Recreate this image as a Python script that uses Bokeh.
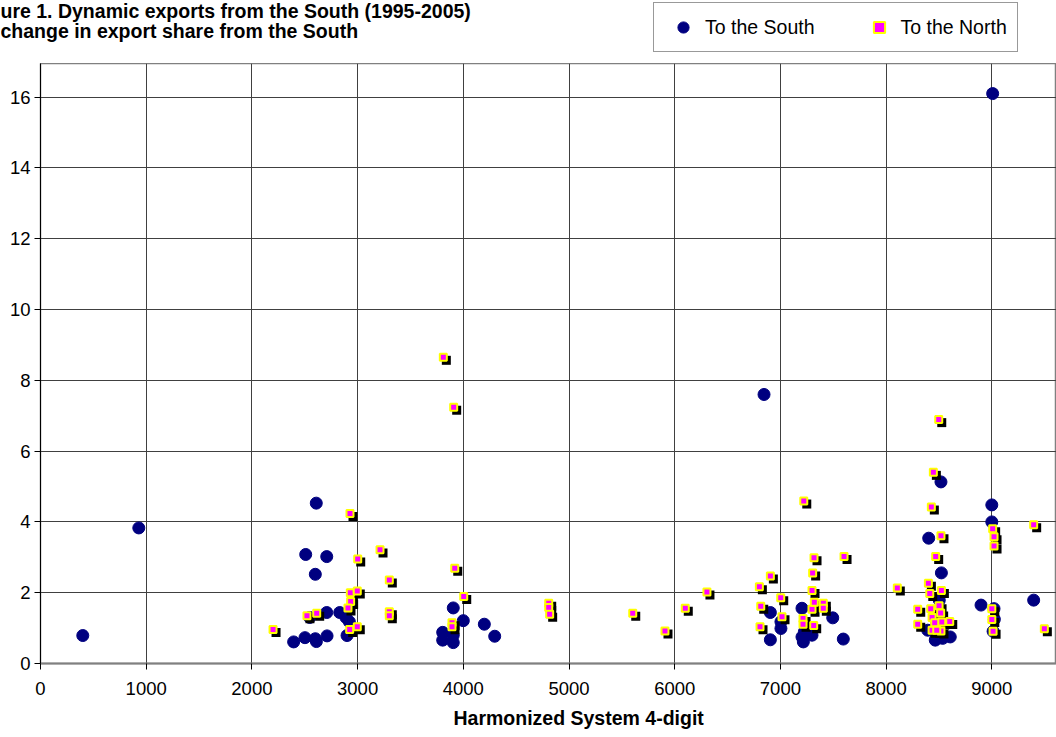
from bokeh.plotting import figure
from bokeh.layouts import column
from bokeh.models import Range1d, FixedTicker, Legend, LegendItem, Label, Title, ColumnDataSource
from bokeh.transform import dodge
from bokeh.embed import file_html
from bokeh.resources import INLINE

# ---- data ----
south_x = [400, 930, 2395, 2502, 2509, 2600, 2609, 2600, 2610, 2547, 2708, 2708, 2711,
           2831, 2890, 2922, 2900, 3805, 3805, 3905, 3905, 3905, 4000, 4199, 4297,
           6845, 6905, 6905, 7005, 7005, 7204, 7204, 7217, 7227, 7299, 7495, 7595,
           8394, 8403, 8465, 8472, 8503, 8519, 8523, 8535, 8607, 8500, 8898,
           9000, 9000, 9008, 9021, 9024, 9012, 9396]
south_y = [0.79, 3.83, 0.61, 0.73, 3.08, 2.52, 4.53, 0.70, 0.62, 1.30, 3.02, 1.44, 0.78,
           1.44, 1.30, 1.18, 0.79, 0.88, 0.66, 0.59, 0.80, 1.57, 1.21, 1.11, 0.77,
           7.60, 1.44, 0.67, 1.18, 0.99, 1.56, 0.75, 0.61, 0.90, 0.80, 1.29, 0.69,
           0.94, 3.54, 0.66, 0.70, 1.79, 5.13, 2.56, 0.71, 0.75, 1.00, 1.65,
           4.48, 4.00, 16.10, 1.55, 1.25, 0.91, 1.79]

north_x = [2200, 2521, 2613, 2928, 2931, 2997, 2934, 2909, 2925, 2997, 3001, 3212,
           3300, 3300, 3300, 3811, 3909, 3919, 3893, 3893, 4004, 4808, 4808, 4817,
           5603, 5908, 6100, 6305, 6801, 6905, 7003, 6814, 7015, 6807, 7214, 7214,
           7221, 7299, 7305, 7318, 7299, 7315, 7321, 7406, 7406, 7602, 8106, 8299,
           8299, 8400, 8413, 8422, 8428, 8435, 8447, 8469, 8498, 8501, 8516, 8519,
           8523, 8526, 8602, 8435, 8519, 8460, 8479, 9000, 9000, 9012, 9008, 9021,
           9021, 9396, 9497]
north_y = [0.96, 1.35, 1.42, 4.24, 2.00, 2.05, 1.75, 1.57, 0.96, 1.04, 2.95, 3.21,
           2.36, 1.46, 1.35, 8.65, 7.24, 2.69, 1.15, 1.04, 1.89, 1.70, 1.58, 1.39,
           1.42, 0.92, 1.56, 2.02, 2.17, 2.47, 1.86, 1.62, 1.32, 1.04, 1.27, 1.11,
           4.59, 2.06, 2.56, 2.99, 1.53, 1.07, 1.73, 1.70, 1.56, 3.02, 2.13, 1.53,
           1.11, 2.27, 1.98, 1.55, 4.42, 1.30, 5.40, 3.02, 6.89, 1.63, 1.43, 3.61,
           2.06, 1.17, 1.19, 0.94, 0.92, 1.15, 0.94, 1.55, 1.24, 0.91, 3.81, 3.58,
           3.32, 3.92, 0.98]

x_ticks = [0, 1000, 2000, 3000, 4000, 5000, 6000, 7000, 8000, 9000]
x_tick_labels = ["0", "1000", "2000", "3000", "4000", "5000", "6000", "7000", "8000", "9000"]
y_ticks = [0, 2, 4, 6, 8, 10, 12, 14, 16]
y_tick_labels = ["0", "2", "4", "6", "8", "10", "12", "14", "16"]

series_names = ["To the South", "To the North"]
title_lines = ["ure 1.  Dynamic exports from the South (1995-2005)",
               "change in export share from the South"]
x_title = "Harmonized System 4-digit"

FONT = "Liberation Sans"
SOUTH_STYLE = dict(marker="circle", fill_color="#000080", line_color="#000080")
NORTH_STYLE = dict(marker="square", fill_color="#FF00FF", line_color="#FFFF00", line_width=2)

src_s = ColumnDataSource(dict(x=south_x, y=south_y))
src_n = ColumnDataSource(dict(x=north_x, y=north_y))

# ---------------- header: titles + legend ----------------
head = figure(width=1056, height=63, output_backend="svg", toolbar_location=None,
              title=None, x_axis_location=None, y_axis_location=None,
              x_range=Range1d(0, 9612), y_range=Range1d(-2, -1), min_border=0)
try:
    head.frame_align = False
except AttributeError:
    pass
head.grid.visible = False
head.outline_line_color = None
head.background_fill_color = "white"
head.border_fill_color = "white"
# same series, out of this strip's view: only used to draw the legend keys
hs = head.scatter("x", "y", source=src_s, size=12, **SOUTH_STYLE)
hn = head.scatter("x", "y", source=src_n, size=7, **NORTH_STYLE)

legend = Legend(items=[LegendItem(label=series_names[0], renderers=[hs]),
                       LegendItem(label=series_names[1], renderers=[hn])],
                location=(653, 11), orientation="horizontal",
                glyph_width=38, glyph_height=28, padding=10, spacing=45, label_standoff=3,
                label_text_font=FONT, label_text_font_size="19.5px", label_text_color="black",
                border_line_color="#333333", border_line_width=1.5,
                background_fill_color="white", background_fill_alpha=1, margin=0)
head.add_layout(legend)

for i, line in enumerate(title_lines):
    head.add_layout(Label(x=0, y=64 - 20 * i, x_units="screen", y_units="screen",
                          text=line, text_font=FONT, text_font_style="bold",
                          text_font_size="19.5px", text_baseline="top", text_align="left",
                          text_color="black"))

# ---------------- main chart ----------------
p = figure(width=1056, height=674, output_backend="svg", toolbar_location=None,
           title=None,
           x_range=Range1d(0, 9612), y_range=Range1d(0, 16.95),
           min_border_left=40, min_border_right=0, min_border_top=0, min_border_bottom=74)
try:
    p.frame_align = False
except AttributeError:
    pass
p.background_fill_color = "white"
p.border_fill_color = "white"
p.outline_line_color = "#808080"
p.outline_line_width = 1.5

p.xgrid.ticker = FixedTicker(ticks=x_ticks)
p.ygrid.ticker = FixedTicker(ticks=y_ticks)
p.xgrid.grid_line_color = "#404040"
p.ygrid.grid_line_color = "#404040"

p.xaxis.ticker = FixedTicker(ticks=x_ticks)
p.yaxis.ticker = FixedTicker(ticks=y_ticks)
p.xaxis.major_label_overrides = {t: l for t, l in zip(x_ticks, x_tick_labels)}
p.yaxis.major_label_overrides = {t: l for t, l in zip(y_ticks, y_tick_labels)}
for ax in (p.xaxis[0], p.yaxis[0]):
    ax.major_label_text_font = FONT
    ax.major_label_text_font_size = "18.5px"
    ax.major_label_text_color = "black"
    ax.major_tick_in = 0
    ax.major_tick_out = 6
    ax.minor_tick_in = 0
    ax.minor_tick_out = 0
    ax.major_tick_line_color = "black"
p.xaxis.axis_line_color = "#808080"
p.xaxis.axis_line_width = 2
p.yaxis.axis_line_color = "black"
p.xaxis.major_label_standoff = 12
p.yaxis.major_label_standoff = 4

south = p.scatter("x", "y", source=src_s, size=12, **SOUTH_STYLE)
p.scatter(dodge("x", 28.4), dodge("y", -0.085), source=src_n, marker="square", size=9,
          fill_color="black", line_color=None)
north = p.scatter("x", "y", source=src_n, size=7, **NORTH_STYLE)

p.add_layout(Title(text=x_title, align="left", offset=413, text_font=FONT,
                   text_font_style="bold", text_font_size="19.5px", text_color="black",
                   standoff=15), "below")

layout = column(head, p, spacing=0)
open("out.html", "w").write(file_html(layout, INLINE))
